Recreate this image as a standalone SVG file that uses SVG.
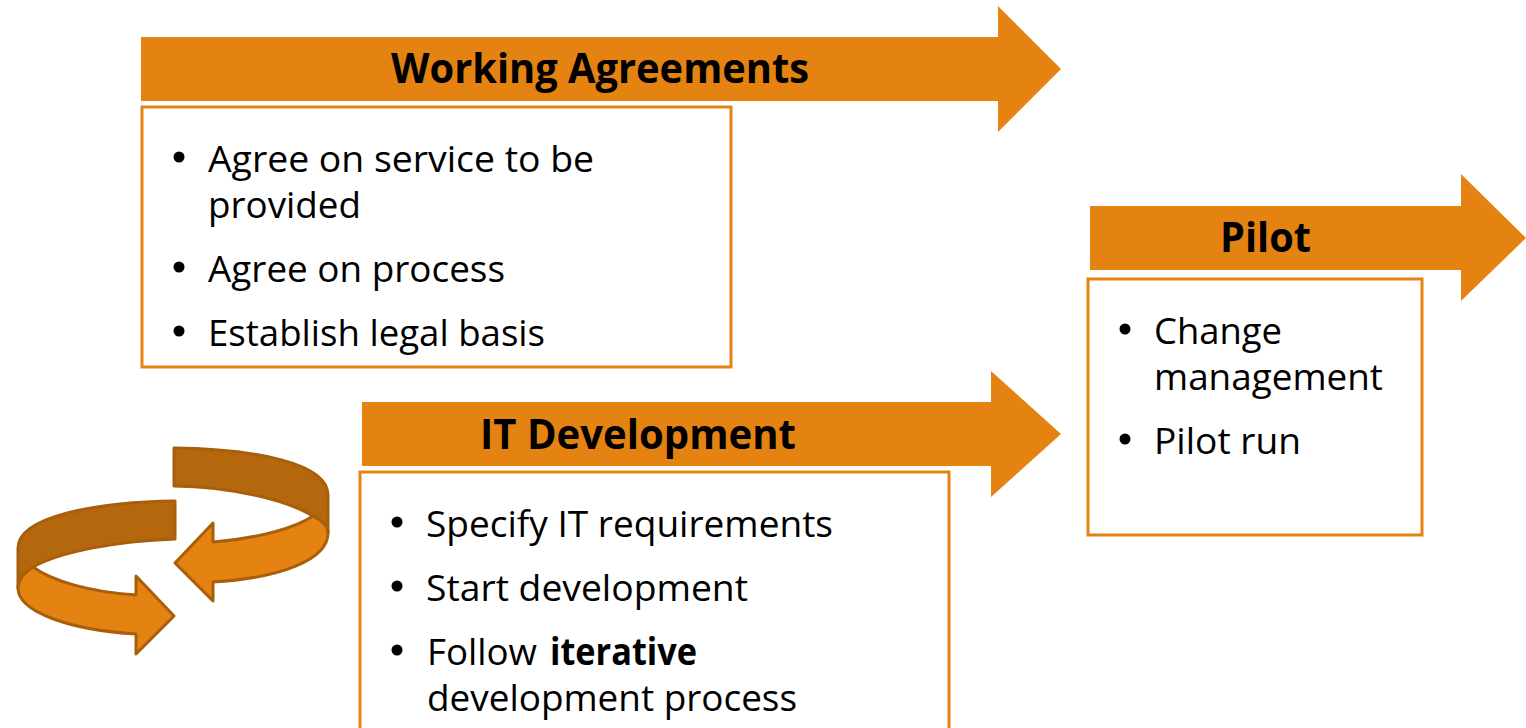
<svg xmlns="http://www.w3.org/2000/svg" width="1526" height="728" viewBox="0 0 1526 728">
<style>
text{font-family:"Open Sans","Liberation Sans",sans-serif;fill:#000}
.h{font-size:42px;font-weight:700}
.b{font-size:37px}
.box{fill:#fff;stroke:#E48312;stroke-width:3}
.ar{fill:#E48312}
.dk{fill:#B4670D;stroke:#A85F0B;stroke-width:3;stroke-linejoin:round}
.lt{fill:#E48312;stroke:#A85F0B;stroke-width:3;stroke-linejoin:round}
</style>
<rect width="1526" height="728" fill="#fff"/>
<g id="working-agreements">
<path class="ar" d="M141 37H998V6L1061 69L998 132V101H141Z"/>
<text class="h" x="391" y="83" textLength="418" lengthAdjust="spacingAndGlyphs">Working Agreements</text>
<rect class="box" x="142" y="107" width="589" height="260"/>
<circle cx="179" cy="157" r="5.5"/><circle cx="179" cy="267" r="5.5"/><circle cx="179" cy="331" r="5.5"/>
<text class="b" x="208" y="172" textLength="386" lengthAdjust="spacingAndGlyphs">Agree on service to be</text>
<text class="b" x="208" y="218" textLength="153" lengthAdjust="spacingAndGlyphs">provided</text>
<text class="b" x="208" y="282" textLength="297" lengthAdjust="spacingAndGlyphs">Agree on process</text>
<text class="b" x="208" y="346" textLength="337" lengthAdjust="spacingAndGlyphs">Establish legal basis</text>
</g>
<g id="it-development">
<path class="ar" d="M362 402H991V371L1061 434L991 497V466H362Z"/>
<text class="h" x="480" y="449" textLength="316" lengthAdjust="spacingAndGlyphs">IT Development</text>
<rect class="box" x="360" y="472" width="589" height="270"/>
<circle cx="397" cy="522" r="5.5"/><circle cx="397" cy="586" r="5.5"/><circle cx="397" cy="650" r="5.5"/>
<text class="b" x="426" y="537" textLength="407" lengthAdjust="spacingAndGlyphs">Specify IT requirements</text>
<text class="b" x="426" y="601" textLength="322" lengthAdjust="spacingAndGlyphs">Start development</text>
<text class="b" x="427" y="665" textLength="110" lengthAdjust="spacingAndGlyphs">Follow</text>
<text class="b" x="550" y="665" font-weight="700" textLength="147" lengthAdjust="spacingAndGlyphs">iterative</text>
<text class="b" x="427" y="711" textLength="370" lengthAdjust="spacingAndGlyphs">development process</text>
</g>
<g id="pilot">
<path class="ar" d="M1090 206H1461V174L1526 238L1461 301V270H1090Z"/>
<text class="h" x="1220" y="252" textLength="91" lengthAdjust="spacingAndGlyphs">Pilot</text>
<rect class="box" x="1088" y="279" width="334" height="256"/>
<circle cx="1125" cy="329" r="5.5"/><circle cx="1125" cy="439" r="5.5"/>
<text class="b" x="1154" y="344" textLength="128" lengthAdjust="spacingAndGlyphs">Change</text>
<text class="b" x="1154" y="390" textLength="229" lengthAdjust="spacingAndGlyphs">management</text>
<text class="b" x="1154" y="454" textLength="147" lengthAdjust="spacingAndGlyphs">Pilot run</text>
</g>
<g id="cycle-arrows">
<path class="dk" d="M174 448C255 449 328 463 328 495V533C328 526 323 521 313 516C285 499 230 487 174 486Z"/>
<path class="lt" d="M313 516C323 521 328 526 328 533C328 560 280 578 213 582V601L175 563L213 523V542C260 538 295 528 313 516Z"/>
<path class="dk" d="M175 501C95 502 18 517 18 548V588C18 579 24 573 33 567C60 552 115 541 175 539Z"/>
<path class="lt" d="M33 567C24 573 18 579 18 588C18 612 70 630 136 634V654L174 616L136 576V595C90 592 52 581 33 567Z"/>
</g>
</svg>
